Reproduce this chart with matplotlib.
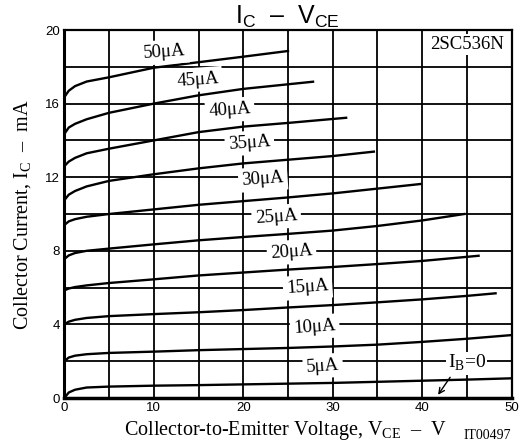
import matplotlib.pyplot as plt

# ===== Data (VCE in V, IC in mA) =====
v_knee = [0, 0.5, 1.2, 2.5, 5, 10, 15, 20, 25, 30, 35, 40, 45, 50]

ib_labels = ['5\u03bcA', '10\u03bcA', '15\u03bcA', '20\u03bcA', '25\u03bcA',
             '30\u03bcA', '35\u03bcA', '40\u03bcA', '45\u03bcA', '50\u03bcA']

ic_5 = [0.0, 0.3, 0.45, 0.57, 0.62, 0.67, 0.7, 0.74, 0.78, 0.82, 0.88, 0.94, 1.0, 1.07]
ic_10 = [2.0, 2.2, 2.3, 2.38, 2.45, 2.52, 2.6, 2.66, 2.72, 2.8, 2.9, 3.05, 3.22, 3.42]
ic_15 = [4.0, 4.15, 4.25, 4.35, 4.45, 4.56, 4.66, 4.78, 4.92, 5.05, 5.2, 5.36, 5.55, 5.69]
ic_20 = [5.85, 5.95, 6.03, 6.12, 6.25, 6.45, 6.66, 6.82, 6.98, 7.12, 7.28, 7.45, 7.73]
ic_25 = [7.55, 7.75, 7.88, 8.0, 8.12, 8.35, 8.57, 8.75, 8.92, 9.1, 9.35, 9.65, 10.0]
ic_30 = [9.4, 9.6, 9.72, 9.85, 10.0, 10.25, 10.5, 10.7, 10.9, 11.12, 11.38, 11.63]
ic_35 = [10.75, 11.05, 11.25, 11.5, 11.8, 12.16, 12.48, 12.75, 12.95, 13.15, 13.39]
ic_40 = [12.6, 12.85, 13.05, 13.3, 13.55, 14.0, 14.45, 14.75, 14.95, 15.23]
ic_45 = [14.35, 14.7, 14.9, 15.15, 15.5, 16.0, 16.45, 16.8, 17.05, 17.19]
ic_50 = [16.35, 16.7, 16.95, 17.2, 17.43, 17.95, 18.25, 18.55, 18.86]

# last VCE point of each curve (where the drawn line stops)
v_end = [50, 50, 48.2, 46.3, 44.7, 39.8, 34.6, 31.5, 27.8, 25.0]

curves = [ic_5, ic_10, ic_15, ic_20, ic_25, ic_30, ic_35, ic_40, ic_45, ic_50]

# label anchor points (VCE, IC)
label_v = [28.9, 28.0, 27.2, 25.4, 23.7, 22.2, 20.7, 18.5, 14.9, 11.2]
label_i = [1.74, 3.86, 6.03, 7.93, 9.84, 11.9, 13.86, 15.65, 17.3, 18.8]

DASH = '\u2013'


def main():
    plt.rcParams.update({'font.family': 'serif',
                         'font.serif': ['Liberation Serif', 'DejaVu Serif'],
                         'mathtext.fontset': 'custom',
                         'mathtext.rm': 'Liberation Serif'})
    fig = plt.figure(figsize=(5.21, 4.48), dpi=100)
    ax = fig.add_axes([0.1234, 0.1116, 0.8587, 0.8214])

    ax.set_xlim(0, 50)
    ax.set_ylim(0, 20)
    ax.set_xticks(range(0, 51, 5))
    ax.set_yticks(range(0, 21, 2))
    ax.set_xticklabels([str(v) if v % 10 == 0 else '' for v in range(0, 51, 5)],
                       family='Liberation Sans', fontsize=9.5)
    ax.set_yticklabels([str(v) if v % 4 == 0 else '' for v in range(0, 21, 2)],
                       family='Liberation Sans', fontsize=9.5)
    ax.tick_params(length=0, pad=3)
    ax.grid(True, color='k', linewidth=1.3)
    ax.set_axisbelow(True)
    for side, sp in ax.spines.items():
        sp.set_linewidth(1.6)
    ax.spines['bottom'].set_linewidth(2.5)
    ax.spines['left'].set_linewidth(2.2)

    # ===== Curves =====
    for ic, v_last in zip(curves, v_end):
        vs = v_knee[:len(ic)]
        vs = vs[:-1] + [v_last]
        ax.plot(vs, ic, color='k', linewidth=1.7, zorder=3)

    # ===== Labels with white boxes that break the grid =====
    box = dict(facecolor='white', edgecolor='none', pad=2.5)
    for lab, lv, li in zip(ib_labels, label_v, label_i):
        ax.text(lv, li, lab, fontsize=13.5, ha='center', va='center',
                rotation=4, bbox=box, zorder=4)

    ax.text(45.0, 1.9, r'I$_\mathregular{B}$=0', fontsize=14, ha='center',
            va='center', bbox=dict(facecolor='white', edgecolor='none', pad=1.0),
            zorder=4)
    ax.annotate('', xy=(41.6, 0.05), xytext=(43.3, 1.25),
                arrowprops=dict(arrowstyle='->', color='k', lw=1.0), zorder=4)

    ax.text(45.0, 19.2, '2SC536N', fontsize=13.5, ha='center', va='center',
            bbox=dict(facecolor='white', edgecolor='none', pad=1.5), zorder=4)

    # ===== Titles =====
    fig.text(0.551, 0.962, r'I$_\mathregular{C}$  ' + DASH + r'  V$_\mathregular{CE}$',
             family='Liberation Sans', fontsize=18, ha='center', va='center')
    fig.text(0.547, 0.04,
             r'Collector-to-Emitter Voltage, V$_\mathregular{CE}$  ' + DASH + '  V',
             fontsize=14.5, ha='center', va='center')
    fig.text(0.044, 0.52, r'Collector Current, I$_\mathregular{C}$  ' + DASH + '  mA',
             fontsize=14.5, ha='center', va='center', rotation=90)
    fig.text(0.935, 0.027, 'IT00497', fontsize=10, ha='center', va='center')

    fig.savefig('out.png', dpi=100)
    plt.close(fig)


if __name__ == '__main__':
    main()
